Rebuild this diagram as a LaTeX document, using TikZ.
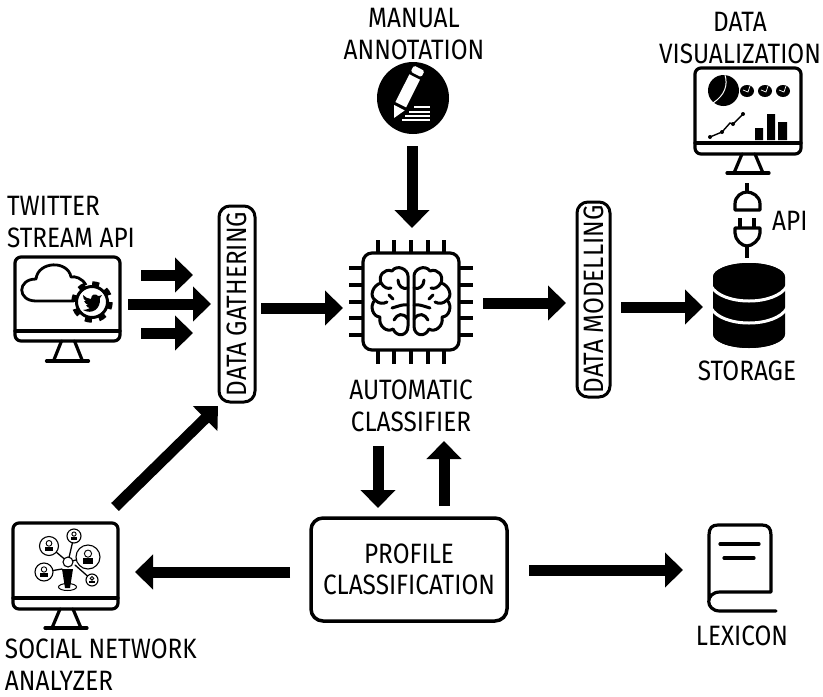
\documentclass[tikz,border=0pt]{standalone}
\usepackage{fontspec}
\setmainfont[FakeStretch=0.87]{Fira Sans}
\usetikzlibrary{arrows.meta}
\tikzset{
  lab/.style={inner sep=0pt,font=\fontsize{28}{32}\selectfont,align=center},
  labl/.style={inner sep=0pt,font=\fontsize{28}{32}\selectfont,align=left},
  iconbox/.style={inner sep=0pt,outer sep=0pt,rectangle},
  pillbox/.style={draw=black,line width=3pt,rounded corners=11pt,inner sep=0pt,outer sep=0pt,rectangle,font=\fontsize{28}{30}\selectfont},
  blockarrow/.style={draw=black,line width=11pt,-{Triangle[length=18pt,width=34pt]}},
  iconline/.style={draw=black,line width=3.2pt,line cap=round,line join=round},
  thinline/.style={draw=black,line width=1.3pt,line cap=round}
}
\newcommand\mymonitor[7]{% x1 y1 x2 y2 div base cx
  \draw[iconline,rounded corners=6pt] (#1,#2) rectangle (#3,#4);
  \draw[iconline] (#1,#5) -- (#3,#5);
  \draw[iconline] (#7-6,#4) -- (#7-14,#6) (#7+7,#4) -- (#7+15,#6);
  \draw[iconline] (#7-21,#6) -- (#7+21,#6);
}
\newcommand\netperson[3]{% x y r
  \draw[draw=black,line width=1.1pt,fill=white] (#1,#2) circle (#3);
  \draw[draw=black,line width=.9pt] (#1,#2-0.28*#3) circle (0.3*#3);
  \fill[black] (#1-0.45*#3,#2+0.55*#3) rectangle (#1+0.45*#3,#2+0.12*#3);
}
\begin{document}
\begin{tikzpicture}[x=1pt,y=-1pt]
\useasboundingbox (0,0) rectangle (823,697);
% --- anchor nodes
\node[iconbox,minimum width=105pt,minimum height=104pt] (twitter) at (67.5,309) {};
\node[pillbox,minimum width=36pt,minimum height=196pt] (gather) at (237,304) {\rotatebox{90}{DATA GATHERING}};
\node[iconbox,minimum width=124pt,minimum height=124pt] (classifier) at (411,302) {};
\node[iconbox,minimum width=72pt,minimum height=72pt] (manual) at (413,98) {};
\node[pillbox,minimum width=33pt,minimum height=195pt] (modelling) at (593.5,299.5) {\rotatebox{90}{DATA MODELLING}};
\node[iconbox,minimum width=72pt,minimum height=85pt] (storage) at (749,305.5) {};
\node[pillbox,line width=3.5pt,rounded corners=12pt,minimum width=196pt,minimum height=103pt,align=center,font=\fontsize{28}{31}\selectfont] (profile) at (409,569.5) {PROFILE\\CLASSIFICATION};
\node[iconbox,minimum width=105pt,minimum height=105pt] (social) at (65.5,575.5) {};
\node[iconbox,minimum width=70pt,minimum height=87pt] (lexicon) at (742,568.5) {};
% --- labels
\node[lab,anchor=center] (lmanual) at (414,34.5) {MANUAL\\ANNOTATION};
\node[lab,anchor=center] (lvis) at (740,38) {DATA\\VISUALIZATION};
\node[labl,anchor=center] (ltwitter) at (71,222) {\hbox to 126pt{TWITTER\hfil}\\STREAM API};
\node[lab,anchor=center] (lauto) at (411,405.5) {AUTOMATIC\\CLASSIFIER};
\node[lab,anchor=base] (lstorage) at (747,380) {STORAGE};
\node[lab,anchor=base west] (lapi) at (772,230) {API};
\node[labl,anchor=center] (lsocial) at (101,665) {\hbox to 192pt{SOCIAL NETWORK\hfil}\\ANALYZER};
\node[lab,anchor=base] (llexicon) at (742,645) {LEXICON};
% --- arrows
\draw[blockarrow,shorten <=21pt,shorten >=26pt] ([yshift=34pt]twitter.east) -- ([yshift=29pt]gather.west);
\draw[blockarrow,shorten <=8pt,shorten >=8pt] ([yshift=5pt]twitter.east) -- (gather.west);
\draw[blockarrow,shorten <=21pt,shorten >=26pt] ([yshift=-24pt]twitter.east) -- ([yshift=-29pt]gather.west);
\draw[blockarrow,shorten <=6pt,shorten >=6pt] ([yshift=-4pt]gather.east) -- ([yshift=-6pt]classifier.west);
\draw[blockarrow,shorten <=10pt,shorten >=11pt] ([yshift=-1pt]classifier.east) -- ([yshift=-3.5pt]modelling.west);
\draw[blockarrow,shorten <=11pt,shorten >=10pt] ([yshift=-7.5pt]modelling.east) -- ([yshift=-1.5pt]storage.west);
\draw[blockarrow,shorten <=12pt,shorten >=12pt] ([xshift=-1pt]manual.south) -- ([xshift=1pt]classifier.north);
\draw[blockarrow,shorten <=82pt,shorten >=10pt] ([xshift=-33pt]classifier.south) -- ([xshift=-31pt]profile.north);
\draw[blockarrow,shorten <=12pt,shorten >=77pt] ([xshift=35pt]profile.north) -- ([xshift=33pt]classifier.south);
\draw[blockarrow,shorten <=21pt,shorten >=17pt] ([yshift=-2.5pt]profile.west) -- ([yshift=3.5pt]social.east);
\draw[blockarrow,shorten <=22pt,shorten >=24pt] ([yshift=-.5pt]profile.east) -- ([yshift=-1.5pt]lexicon.west);
\draw[blockarrow] ([xshift=-3pt,yshift=16pt]social.north east) -- ([xshift=-1pt,yshift=-4pt]gather.south west);
% --- twitter monitor
\mymonitor{15}{257}{120}{341}{331}{361}{67.5}
\draw[iconline,line width=2.8pt] (80,301) -- (36,301) .. controls (17,301) and (17,279) .. (36,279) .. controls (38,261) and (68,260) .. (71,277) .. controls (75,276) and (82,278) .. (86,285);
\fill[white] (92,302) circle (18);
\draw[draw=black,line width=5.5pt,dash pattern=on 7pt off 7.14pt] (92,302) circle (18);
\draw[draw=black,line width=3pt,fill=white] (92,302) circle (15.5);
\fill[black] (102,295) .. controls (100,296) and (99,296) .. (98,296) .. controls (96,293) and (91,294) .. (91,299) .. controls (88,299) and (85,297) .. (83,295) .. controls (83,298) and (84,300) .. (86,301) -- (84,301) .. controls (85,303) and (86,304) .. (88,305) -- (86,305) .. controls (87,307) and (88,308) .. (90,308) .. controls (88,309) and (86,310) .. (83,310) .. controls (92,315) and (101,309) .. (100,298) -- cycle;
% --- manual annotation icon
\fill[black] (413,98) circle (36);
\fill[white] (394,118) -- (394.1,105) -- (404.7,110.4) -- cycle;
\fill[white] (395.4,102) -- (409.4,74.3) -- (420,79.7) -- (406.1,107.4) -- cycle;
\fill[white,rounded corners=1.5pt] (410.7,71.7) -- (413.9,65.5) -- (424.5,70.9) -- (421.3,77.1) -- cycle;
\draw[draw=white,line width=1.6pt] (414,107) -- (430,107) (409,112) -- (430,112) (405,116) -- (430,116) (402,120) -- (430,120);
% --- classifier chip
\draw[iconline,rounded corners=9pt] (363,253) rectangle (459,350);
\foreach \px in {378,394,411,428,444} \draw[iconline,line cap=butt] (\px,240) -- (\px,253) (\px,350) -- (\px,364);
\foreach \py in {268,285,302,318,335} \draw[iconline,line cap=butt] (349,\py) -- (363,\py) (459,\py) -- (473,\py);
\foreach \side in {1,-1}{
\begin{scope}[shift={(411,302)},xscale=\side,line width=3pt,line cap=round,line join=round]
\draw (-3,-26) .. controls (-3,-33) and (-14,-38) .. (-19,-31)
 .. controls (-27,-34) and (-33,-26) .. (-30,-19)
 .. controls (-38,-17) and (-42,-6) .. (-36,-2)
 .. controls (-42,4) and (-38,15) .. (-31,15)
 .. controls (-33,24) and (-24,31) .. (-18,27)
 .. controls (-14,36) and (-3,34) .. (-3,24) -- cycle;
\draw (-3,-14) .. controls (-8,-12) and (-13,-16) .. (-13,-22);
\draw (-30,-19) .. controls (-27,-14) and (-23,-13) .. (-20,-14);
\draw (-3,17) .. controls (-8,10) and (-14,12) .. (-17,18);
\draw (-36,-2) .. controls (-32,2) and (-28,2) .. (-24,0);
\draw (-22,-7) -- (-18,-3);
\draw (-3,3) .. controls (-8,2) and (-12,4) .. (-19,6);
\end{scope}}
% --- visualization monitor
\mymonitor{695}{68}{801}{154}{143}{173}{748}
\fill[black] (723.5,90.5) circle (15.5);
\draw[draw=white,line width=1pt] (725,75) .. controls (728,85) and (725,95) .. (713,103);
\foreach \cx in {747,765,783}{
  \fill[black] (\cx,91) circle[x radius=7,y radius=6];
  \draw[draw=white,line width=.7pt] (\cx-4,90) -- (\cx+1,92) -- (\cx+3,86);
}
\draw[draw=black,line width=1.4pt] (710,137) -- (722,132) -- (730,123) -- (733,124) -- (743,114);
\foreach \pt in {(710,137),(722,132),(733,124),(743,114)} \fill[black] \pt circle (2);
\fill[black] (755,128) rectangle (763,140) (767,114) rectangle (775,140) (778,122) rectangle (787,140);
% --- plug
\draw[iconline,line cap=butt] (747,183) -- (747,192);
\draw[iconline,line join=round] (735,210) -- (735,204) .. controls (735,196) and (742,192) .. (747,192) .. controls (752,192) and (760,196) .. (760,204) -- (760,210) -- cycle;
\draw[iconline,line cap=butt] (740,218) -- (740,227) (754,218) -- (754,227);
\draw[iconline,line join=round] (735,228) -- (760,228) -- (760,233) .. controls (760,240) and (752,246) .. (747,246) .. controls (742,246) and (735,240) .. (735,233) -- cycle;
\draw[iconline,line cap=butt] (747,246) -- (747,258);
% --- storage
\fill[black] (713,277) arc[start angle=180,end angle=360,x radius=36,y radius=14] -- (785,334) arc[start angle=0,end angle=180,x radius=36,y radius=14] -- cycle;
\fill[black] (749,277) circle[x radius=36,y radius=14];
\fill[black] (749,334) circle[x radius=36,y radius=14];
\draw[draw=white,line width=3pt] (711,286) .. controls (722,306) and (776,306) .. (787,286);
\draw[draw=white,line width=3pt] (711,308) .. controls (722,328) and (776,328) .. (787,308);
% --- social monitor
\mymonitor{13}{523}{118}{609}{598}{628}{66}
\draw[thinline] (68,562) -- (49,546) (68,562) -- (74,536) (68,562) -- (88,557) (62,569) -- (44,572) (75,565) -- (92,580);
\draw[draw=black,line width=1.1pt,fill=white] (68,562) circle (5);
\draw[draw=black,line width=1pt] (67.5,587) circle[x radius=9,y radius=3.5];
\fill[black] (62,569) -- (73,569) -- (70,588) -- (65,588) -- cycle;
\netperson{49}{546}{9.5}
\netperson{74}{536}{7}
\netperson{88}{557}{12}
\netperson{44}{572}{9}
\netperson{92}{580}{6}
% --- lexicon book
\draw[iconline,line join=round] (709,600) -- (709,535) .. controls (709,528) and (712,525) .. (718,525) -- (762,525) .. controls (768,525) and (771,528) .. (771,535) -- (771,592) -- (720,592) .. controls (705,592) and (705,611) .. (720,611) -- (776,611);
\draw[iconline] (720,544) -- (759,544) (724,558) -- (754,558);
\end{tikzpicture}
\end{document}
